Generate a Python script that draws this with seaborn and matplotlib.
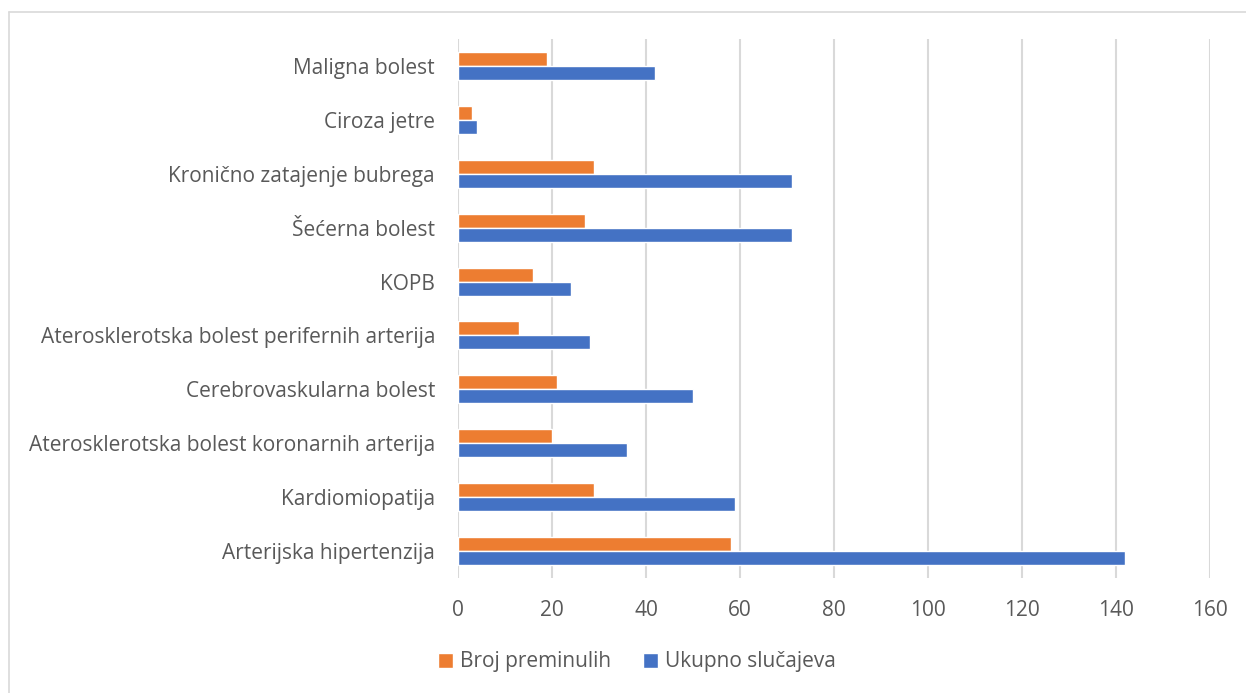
import matplotlib
matplotlib.use("Agg")
import matplotlib.pyplot as plt
import seaborn as sns
import pandas as pd
from matplotlib.lines import Line2D

categories = [
    "Maligna bolest",
    "Ciroza jetre",
    "Kronično zatajenje bubrega",
    "Šećerna bolest",
    "KOPB",
    "Aterosklerotska bolest perifernih arterija",
    "Cerebrovaskularna bolest",
    "Aterosklerotska bolest koronarnih arterija",
    "Kardiomiopatija",
    "Arterijska hipertenzija",
]
broj_preminulih = [19, 3, 29, 27, 16, 13, 21, 20, 29, 58]
ukupno_slucajeva = [42, 4, 71, 71, 24, 28, 50, 36, 59, 142]
series_names = ["Broj preminulih", "Ukupno slučajeva"]
x_ticks = [0, 20, 40, 60, 80, 100, 120, 140, 160]

df = pd.DataFrame({
    "Bolest": categories * 2,
    "Vrijednost": broj_preminulih + ukupno_slucajeva,
    "Serija": [series_names[0]] * len(categories) + [series_names[1]] * len(categories),
})

sns.set_theme(style="white")
plt.rcParams["font.family"] = ["Open Sans", "DejaVu Sans"]
text_color = "#595959"
fs = 15

fig = plt.figure(figsize=(12.46, 6.93), dpi=100)
ax = fig.add_axes([458 / 1246, 1 - 578 / 693, 752 / 1246, 539 / 693])

palette = {series_names[0]: "#ED7D31", series_names[1]: "#4472C4"}
sns.barplot(data=df, y="Bolest", x="Vrijednost", hue="Serija", order=categories,
            hue_order=series_names, palette=palette, orient="h", width=0.52,
            saturation=1, ax=ax, legend=True, zorder=3)

ax.set_xlim(0, 160)
ax.set_xticks(x_ticks)
ax.set_xticklabels([str(t) for t in x_ticks])
ax.set_xlabel("")
ax.set_ylabel("")
for s in ax.spines.values():
    s.set_visible(False)
ax.grid(axis="x", color="#D9D9D9", linewidth=1.5, zorder=0)
ax.grid(axis="y", visible=False)
ax.tick_params(axis="both", length=0, labelsize=fs, colors=text_color)
ax.tick_params(axis="x", pad=16)
ax.tick_params(axis="y", pad=16.5)

handles, labels = ax.get_legend_handles_labels()
ax.legend_.remove()
fig.legend(handles, labels, loc="center", bbox_to_anchor=(637 / 1246, 1 - 662 / 693), ncol=2,
           frameon=False, fontsize=fs, labelcolor=text_color, handlelength=0.7,
           handleheight=0.7, handletextpad=0.35, columnspacing=1.55)

fig.add_artist(Line2D([8.5 / 1246, 8.5 / 1246], [0, 1 - 11.5 / 693], transform=fig.transFigure,
                      color="#D9D9D9", linewidth=1.2))
fig.add_artist(Line2D([8.5 / 1246, 1], [1 - 11.5 / 693, 1 - 11.5 / 693], transform=fig.transFigure,
                      color="#D9D9D9", linewidth=1.2))

fig.savefig("out.png", dpi=100, facecolor="white")
